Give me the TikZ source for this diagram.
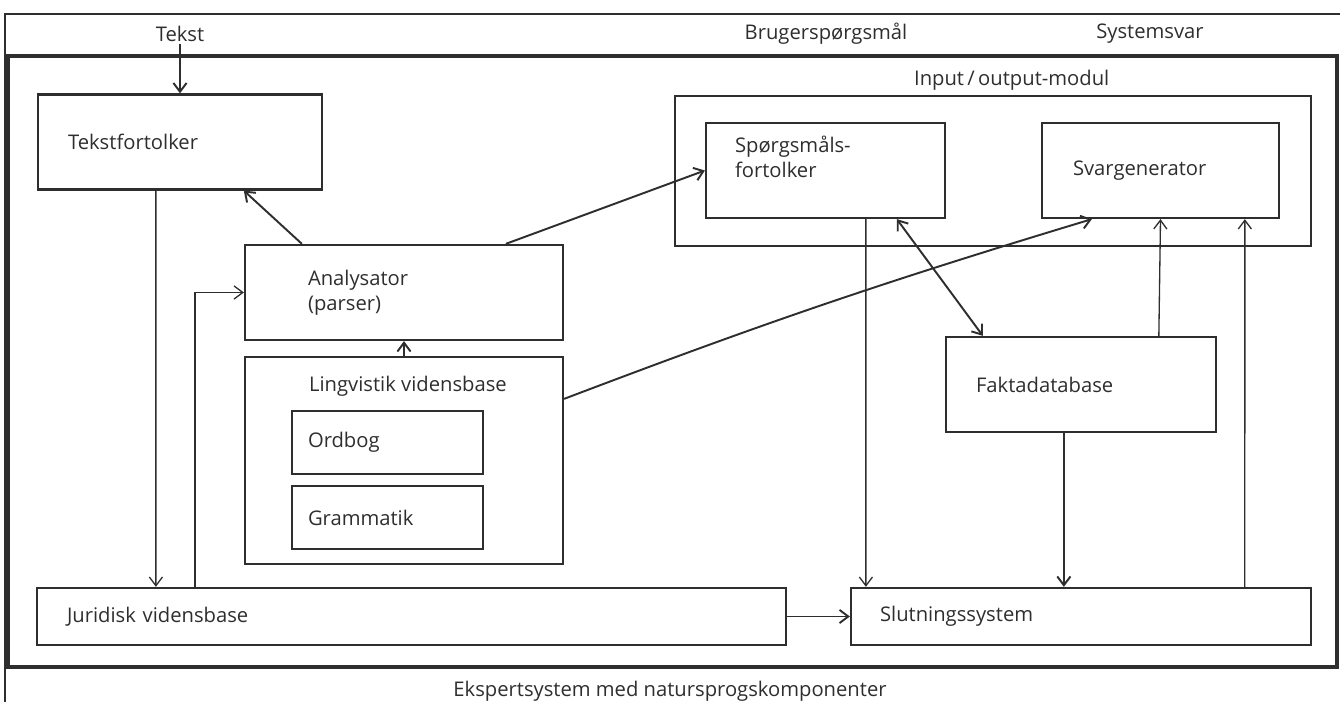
\documentclass[tikz,border=0pt]{standalone}
\usepackage{fontspec}
\setmainfont{Open Sans}
\usepackage{xcolor}
\usepackage{tikz}
\usetikzlibrary{arrows.meta}
\definecolor{inkGrey}{HTML}{2E2E2E}

\begin{document}
\begin{tikzpicture} [
    x=0.02cm, y=-0.02cm,
    font=\fontsize{11.5}{14}\selectfont,
    >={Straight Barb[length=5pt, width=7.5pt]},
    edge/.style={->, line width=1.1pt, color=inkGrey},
    thinEdge/.style={->, line width=0.75pt, color=inkGrey},
    line/.style={-, line width=0.7pt, color=inkGrey},
    frame/.style={line width=2.3pt, color=inkGrey},
    module/.style={rectangle, draw=inkGrey, line width=1.3pt, text=inkGrey, align=left, inner ysep=0pt, inner xsep=0.6cm, minimum height=1.9cm},
    caption/.style={text=inkGrey, inner sep=1pt}
]

\useasboundingbox (0,0) rectangle (1340,702);

\draw[line] (5,702) -- (5,14) -- (1340,14);
\draw[frame] (8,56) rectangle (1337,667);

\node[caption] (tekst) at (180,34) {Tekst};
\node[caption] (brugersp) at (826,34) {Brugerspørgsmål};
\node[caption] (systemsvar) at (1150,34) {Systemsvar};
\node[caption] (ekspert) at (670,691) {Ekspertsystem med natursprogskomponenter};

\node[module, text width=4.48cm] (tekstfortolker) at (180,142) {Tekstfortolker};

\node[module, text width=3.84cm, inner xsep=1.26cm] (analysator) at (404,292.5) {Analysator\\(parser)};

\node[module, minimum width=6.36cm, minimum height=4.14cm] (lingvistik) at (404,460.5) {};
\node[caption, anchor=west] (lingvistik_title) at (307,386) {Lingvistik vidensbase};

\node[module, text width=3.18cm, inner xsep=0.32cm, minimum height=1.26cm] (ordbog) at (387.5,442.5) {Ordbog};

\node[module, text width=3.18cm, inner xsep=0.32cm, minimum height=1.26cm] (grammatik) at (387.5,517.5) {Grammatik};

\node[module, text width=13.78cm, minimum height=1.14cm] (juridisk) at (411.5,616.5) {Juridisk vidensbase};

\node[module, text width=8.04cm, inner xsep=0.58cm, minimum height=1.14cm] (slutning) at (1081,616.5) {Slutningssystem};

\node[module, minimum width=12.72cm, minimum height=3cm] (io_modul) at (993,171) {};
\node[caption, anchor=west] (io_title) at (912,80) {Input\,/\,output-modul};

\node[module, text width=3.62cm, inner xsep=0.58cm, text depth=1.03cm] (spoergsmaal) at (825.5,170.5) {Spørgsmåls-\\fortolker};

\node[module, text width=3.5cm, inner xsep=0.62cm] (svargenerator) at (1160.5,170.5) {Svargenerator};

\node[module, text width=4.2cm] (faktadatabase) at (1081,384.5) {Faktadatabase};

\draw[edge] (tekst) -- (tekstfortolker);
\draw[edge] ([xshift=1.16cm]analysator.north west) -- ([xshift=4.14cm]tekstfortolker.south west);
\draw[thinEdge] ([xshift=2.38cm]tekstfortolker.south west) -- ([xshift=2.4cm]juridisk.north west);
\draw[thinEdge] ([xshift=3.18cm]juridisk.north west) |- (analysator.west);
\draw[edge] (lingvistik) -- (analysator);
\draw[edge] ([xshift=5.24cm]analysator.north west) -- (spoergsmaal.west);
\draw[edge] ([yshift=-0.86cm]lingvistik.north east) to[bend left=2] ([xshift=1.02cm]svargenerator.south west);

\draw[thinEdge] ([xshift=3.22cm]spoergsmaal.south west) -- ([xshift=0.32cm]slutning.north west);
\draw[edge, <->] ([xshift=3.84cm]spoergsmaal.south west) -- ([xshift=0.76cm]faktadatabase.north west);
\draw[thinEdge] ([xshift=4.28cm]faktadatabase.north west) -- (svargenerator.south);
\draw[thinEdge] ([xshift=7.9cm]slutning.north west) -- ([xshift=4.08cm]svargenerator.south west);
\draw[edge] ([xshift=2.38cm]faktadatabase.south west) -- ([xshift=4.28cm]slutning.north west);
\draw[edge] (juridisk) -- (slutning);

\end{tikzpicture}
\end{document}
